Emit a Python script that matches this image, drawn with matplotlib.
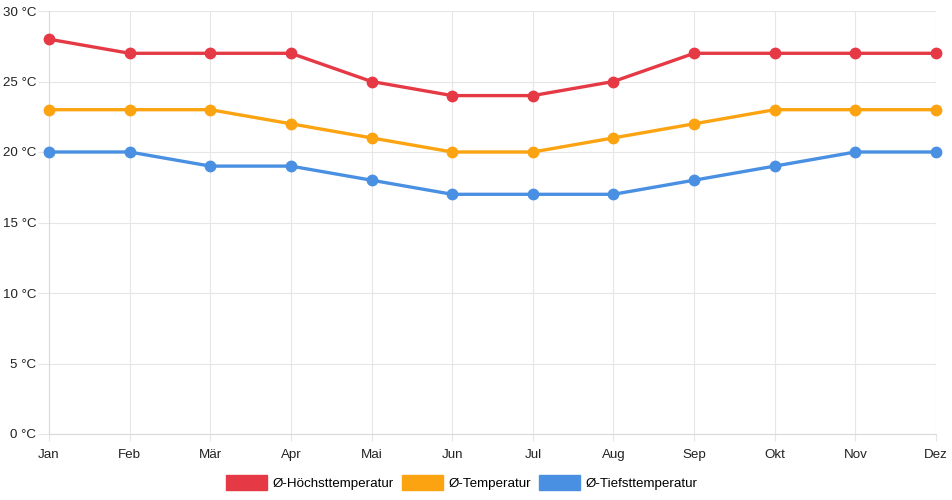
import matplotlib.pyplot as plt
from matplotlib.patches import Patch

plt.rcParams['font.family'] = ['Liberation Sans', 'DejaVu Sans']

# data
months = ["Jan", "Feb", "Mär", "Apr", "Mai", "Jun", "Jul", "Aug", "Sep", "Okt", "Nov", "Dez"]
t_max = [28, 27, 27, 27, 25, 24, 24, 25, 27, 27, 27, 27]
t_avg = [23, 23, 23, 22, 21, 20, 20, 21, 22, 23, 23, 23]
t_min = [20, 20, 19, 19, 18, 17, 17, 17, 18, 19, 20, 20]
y_ticks = [0, 5, 10, 15, 20, 25, 30]

series = [
    ("Ø-Höchsttemperatur", t_max, "#e63946"),
    ("Ø-Temperatur", t_avg, "#fca311"),
    ("Ø-Tiefsttemperatur", t_min, "#4a90e2"),
]

fig = plt.figure(figsize=(9.52, 5.0), dpi=100)
ax = fig.add_axes([49 / 952, 1 - 434 / 500, (936 - 49) / 952, (434 - 11) / 500])

x = range(len(months))
for label, vals, col in series:
    ax.plot(x, vals, color=col, linewidth=2.4, marker="o", markersize=7.5,
            markeredgecolor=col, markerfacecolor=col, zorder=3, clip_on=False)

ax.set_xlim(0, len(months) - 1)
ax.set_ylim(0, 30)
ax.set_xticks(list(x))
ax.set_xticklabels(months)
ax.set_yticks(y_ticks)
ax.set_yticklabels([f"{v} °C" for v in y_ticks])

grid_col = "#e6e6e6"
ax.grid(True, color=grid_col, linewidth=0.8, zorder=0)
for s in ["top", "right"]:
    ax.spines[s].set_visible(False)
for s in ["left", "bottom"]:
    ax.spines[s].set_color("#d9d9d9")
    ax.spines[s].set_linewidth(0.8)
ax.tick_params(axis="both", colors=grid_col, labelcolor="#222222", labelsize=9.6,
               width=0.8)
ax.tick_params(axis="y", length=8, pad=1)
ax.tick_params(axis="x", length=5, pad=6)

handles = [Patch(facecolor=col, edgecolor=col, label=label) for label, _, col in series]
fig.legend(handles=handles, loc="lower center", bbox_to_anchor=(0.485, 0.0), ncol=3,
           frameon=False, fontsize=9.6, handlelength=3.1, handleheight=1.35,
           handletextpad=0.4, columnspacing=0.6, borderpad=0.25)

fig.savefig("out.png", dpi=100)
